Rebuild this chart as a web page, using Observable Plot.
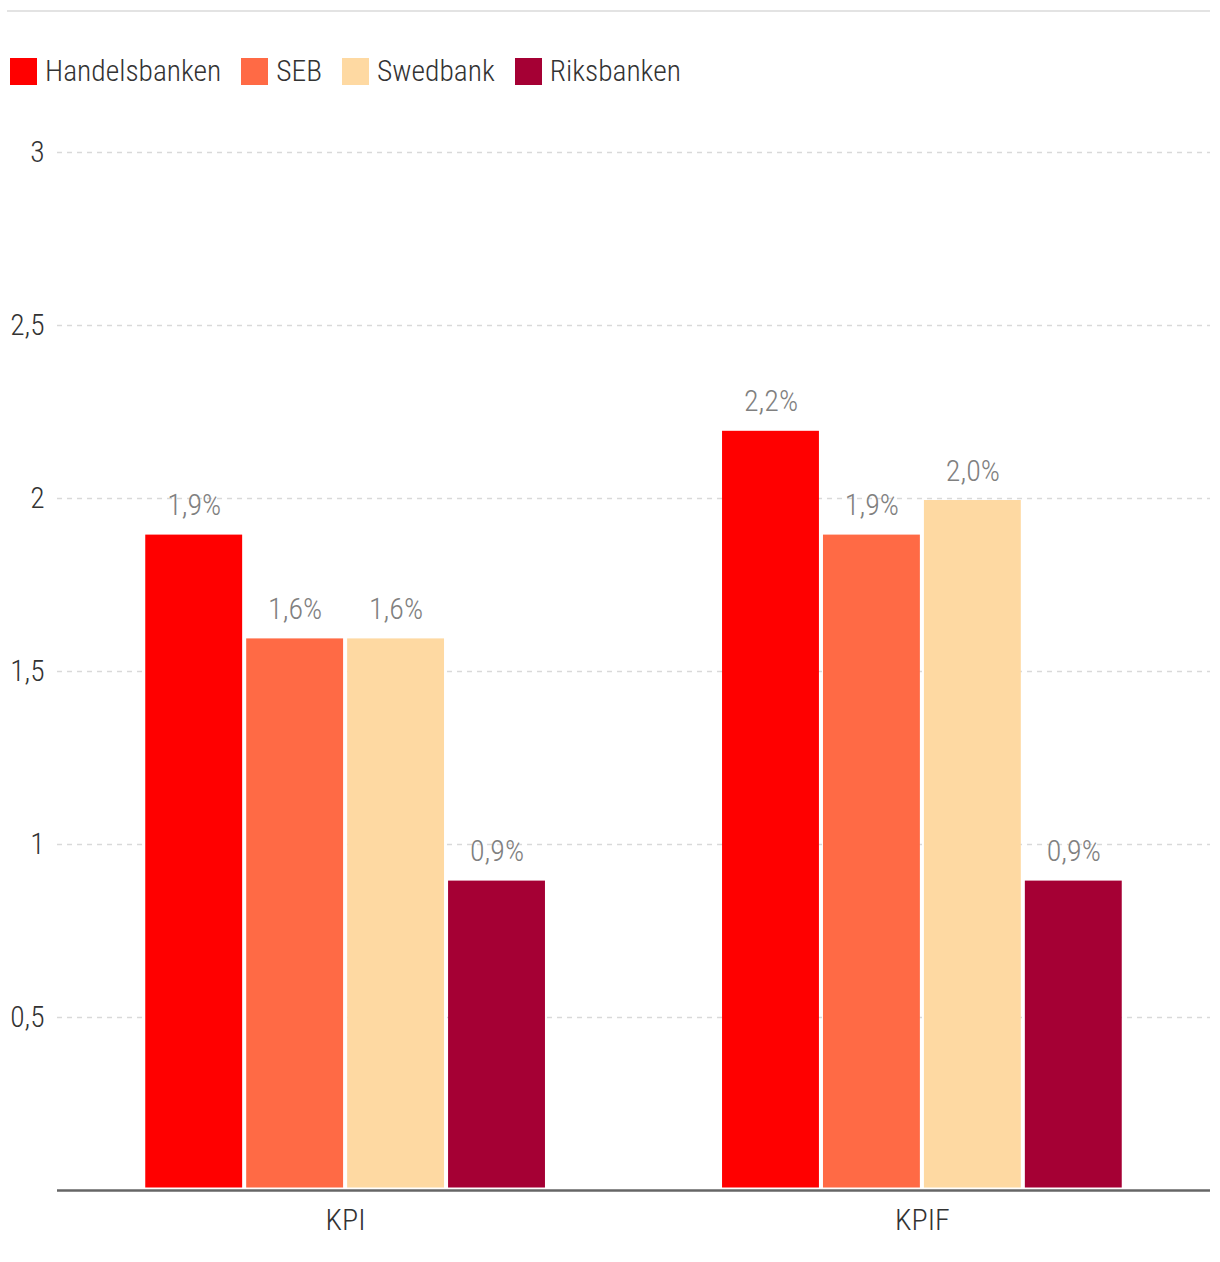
<!DOCTYPE html>
<html>
<head>
<meta charset="utf-8">
<script src="https://cdn.jsdelivr.net/npm/d3@7"></script>
<script src="https://cdn.jsdelivr.net/npm/@observablehq/plot@0.6"></script>
<style>
  html, body { margin: 0; padding: 0; background: #fff; }
  body { width: 1220px; font-family: "Roboto Condensed", "Liberation Sans Narrow", "DejaVu Sans Condensed", "Roboto", sans-serif; font-stretch: condensed; font-weight: 300; }
  .topline { position: absolute; left: 7px; right: 10px; top: 10px; height: 2px; background: #e3e3e3; }
  .legend { position: absolute; left: 10px; top: 57px; display: flex; align-items: center; font-size: 29.5px; color: #333; line-height: 28px; }
  .legend .item { display: flex; align-items: center; margin-right: 20px; }
  .legend .sw { width: 27px; height: 27px; margin-right: 8px; }
  .layer { position: absolute; left: 0; top: 100px; }
</style>
</head>
<body>
<div class="topline"></div>
<div class="legend" id="legend"></div>
<div class="layer" id="back"></div>
<div class="layer" id="front"></div>
<script>
const categories = ["KPI", "KPIF"];
const banks = ["Handelsbanken", "SEB", "Swedbank", "Riksbanken"];
const colors = ["#ff0000", "#ff6a45", "#fed9a2", "#a50034"];
const kpiValues = [1.9, 1.6, 1.6, 0.9];
const kpifValues = [2.2, 1.9, 2.0, 0.9];
const yTicks = [0.5, 1, 1.5, 2, 2.5, 3];

const data = [
  ...banks.map((b, i) => ({category: "KPI", bank: b, value: kpiValues[i]})),
  ...banks.map((b, i) => ({category: "KPIF", bank: b, value: kpifValues[i]}))
];

const comma = (v) => String(v).replace(".", ",");
const fontFamily = '"Roboto Condensed", "Liberation Sans Narrow", "DejaVu Sans Condensed", "Roboto", sans-serif';

// legend
const legend = document.getElementById("legend");
banks.forEach((b, i) => {
  const item = document.createElement("div");
  item.className = "item";
  const sw = document.createElement("span");
  sw.className = "sw";
  sw.style.background = colors[i];
  const t = document.createElement("span");
  t.textContent = b;
  item.appendChild(sw);
  item.appendChild(t);
  legend.appendChild(item);
});

const common = {
  width: 1220,
  height: 1162,
  marginLeft: 57,
  marginRight: 10,
  marginTop: 52,
  marginBottom: 72,
  y: {domain: [0, 3], label: null},
};
const style = {fontFamily, fontSize: "29px", color: "#333", background: "transparent", fontWeight: 300};

// background layer: grid, y axis, baseline spanning the full plot width
const back = Plot.plot({
  ...common,
  style: {...style, background: "#fff"},
  marks: [
    Plot.ruleY(yTicks, {stroke: "#d9d9d9", strokeWidth: 1.5, strokeDasharray: "5,5"}),
    Plot.axisY(yTicks, {tickSize: 0, tickPadding: 13, tickFormat: comma, label: null, fill: "#333", fontSize: 29.5}),
    Plot.ruleY([0], {stroke: "#666", strokeWidth: 2.5})
  ]
});
document.getElementById("back").appendChild(back);

// front layer: grouped bars
const front = Plot.plot({
  ...common,
  style,
  fx: {domain: categories, paddingInner: 0.307, paddingOuter: 0.153, round: false, label: null},
  x: {domain: banks, paddingInner: 0.04, paddingOuter: 0, round: false, axis: null},
  color: {domain: banks, range: colors},
  marks: [
    Plot.barY(data, {fx: "category", x: "bank", y: "value", fill: "bank", insetBottom: 2.5, insetTop: 2}),
    Plot.text(data, {fx: "category", x: "bank", y: "value", text: d => d.value.toFixed(1).replace(".", ",") + "%", lineAnchor: "bottom", dy: -18, fill: "#808080", fontSize: 30}),
    Plot.axisFx({anchor: "bottom", tickSize: 0, tickPadding: 18, label: null, fill: "#333", fontSize: 30}),
    Plot.axisY({tickSize: 0, ticks: [], label: null})
  ]
});
document.getElementById("front").appendChild(front);
</script>
</body>
</html>
